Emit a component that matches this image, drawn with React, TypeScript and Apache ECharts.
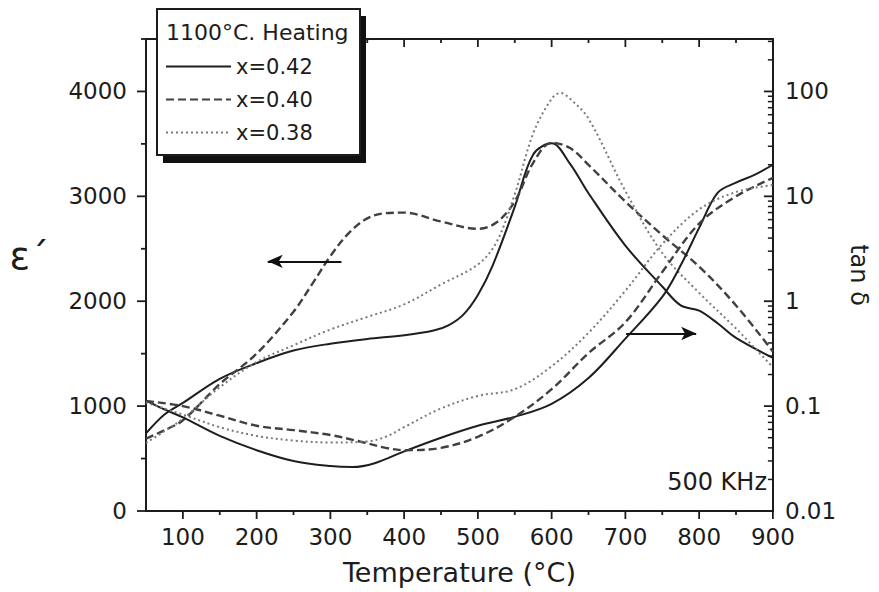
import { useEffect, useRef } from "react";
import * as echarts from "echarts";

const FONT = "'DejaVu Sans', 'Liberation Sans', sans-serif";
const INK = "#1c1c1c";

// legend / sample names
const samples = ["x=0.42", "x=0.40", "x=0.38"];

// ε' (left axis) — temperature grids and values
const epsTemp042 = [50, 75, 100, 150, 200, 250, 300, 350, 400, 440, 460, 480, 500, 520, 550, 575, 600, 625, 650, 700, 750, 775, 800, 825, 850, 900];
const eps042 = [740, 920, 1030, 1260, 1410, 1530, 1595, 1640, 1675, 1720, 1770, 1870, 2060, 2340, 2900, 3400, 3505, 3310, 3030, 2530, 2140, 1960, 1910, 1790, 1650, 1460];

const epsTemp040 = [50, 75, 100, 150, 200, 250, 275, 300, 325, 350, 375, 400, 450, 500, 525, 550, 575, 600, 625, 650, 700, 750, 800, 850, 900];
const eps040 = [690, 770, 865, 1210, 1500, 1900, 2160, 2430, 2650, 2790, 2840, 2845, 2760, 2690, 2750, 2950, 3320, 3510, 3460, 3300, 2950, 2630, 2330, 1960, 1520];

const epsTemp038 = [50, 75, 100, 150, 200, 250, 300, 350, 400, 450, 500, 525, 550, 575, 600, 612, 625, 650, 700, 750, 800, 850, 900];
const eps038 = [650, 760, 880, 1180, 1420, 1580, 1730, 1850, 1970, 2160, 2350, 2560, 3020, 3600, 3930, 3985, 3930, 3740, 3050, 2460, 2080, 1740, 1370];

// tan δ (right, log axis)
const tanTemp042 = [50, 75, 100, 150, 200, 250, 300, 330, 360, 400, 450, 500, 550, 600, 650, 700, 750, 775, 800, 825, 850, 875, 900];
const tan042 = [0.113, 0.093, 0.078, 0.052, 0.038, 0.030, 0.0268, 0.0262, 0.0285, 0.037, 0.050, 0.065, 0.079, 0.105, 0.185, 0.44, 1.1, 2.2, 5.0, 10.8, 13.5, 16, 20];

const tanTemp040 = [50, 100, 150, 200, 250, 300, 340, 375, 400, 450, 500, 550, 600, 650, 700, 750, 800, 850, 900];
const tan040 = [0.112, 0.100, 0.081, 0.065, 0.059, 0.053, 0.046, 0.040, 0.038, 0.040, 0.051, 0.079, 0.145, 0.32, 0.63, 1.9, 5.5, 10, 15];

const tanTemp038 = [50, 100, 150, 200, 250, 300, 350, 375, 400, 450, 500, 550, 600, 650, 700, 750, 800, 850, 900];
const tan038 = [0.108, 0.083, 0.063, 0.052, 0.047, 0.045, 0.046, 0.051, 0.063, 0.095, 0.125, 0.145, 0.24, 0.5, 1.26, 3.5, 7.5, 11, 12.8];

// annotation arrows: [fromT, toT, ε']
const arrowToLeft = [315, 215, 2380];
const arrowToRight = [701, 796, 1692];

// axis ranges and ticks
const xRange = [50, 900];
const epsRange = [0, 4500];
const tanRange = [0.01, 316.227766];
const xMajorTicks = [100, 200, 300, 400, 500, 600, 700, 800, 900];
const xMinorTicks = [150, 250, 350, 450, 550, 650, 750, 850];
const epsMajorTicks = [0, 1000, 2000, 3000, 4000];
const epsMinorTicks = [500, 1500, 2500, 3500, 4500];
const tanMajorTicks = [0.01, 0.1, 1, 10, 100];
const tanMinorTicks = [
  0.02, 0.03, 0.04, 0.05, 0.06, 0.07, 0.08, 0.09,
  0.2, 0.3, 0.4, 0.5, 0.6, 0.7, 0.8, 0.9,
  2, 3, 4, 5, 6, 7, 8, 9,
  20, 30, 40, 50, 60, 70, 80, 90,
  200, 300,
];

const zip = (xs: number[], ys: number[]) => xs.map((x, i) => [x, ys[i]]);

const lineStyles = [
  { color: "#1e1e1e", width: 2, type: "solid" as const },
  { color: "#404040", width: 2.4, type: [8, 4] as any },
  { color: "#7a7a7a", width: 2, type: [2, 3] as any },
];

// tick marks drawn as thin rect symbols at axis values
function tickMarks(
  data: number[][],
  yAxisIndex: number,
  size: number[],
  offset: number[]
) {
  return {
    type: "scatter",
    xAxisIndex: 0,
    yAxisIndex,
    silent: true,
    clip: false,
    z: 6,
    data,
    symbol: "rect",
    symbolSize: size,
    symbolOffset: offset,
    itemStyle: { color: INK, opacity: 1 },
    emphasis: { disabled: true },
    tooltip: { show: false },
  };
}

export default function App() {
  const ref = useRef<HTMLDivElement>(null);

  useEffect(() => {
    if (!ref.current) return;
    const chart = echarts.init(ref.current, undefined, { renderer: "svg" });

    const epsData = [zip(epsTemp042, eps042), zip(epsTemp040, eps040), zip(epsTemp038, eps038)];
    const tanData = [zip(tanTemp042, tan042), zip(tanTemp040, tan040), zip(tanTemp038, tan038)];

    const epsSeries = epsData.map((d, i) => ({
      type: "line",
      name: samples[i],
      xAxisIndex: 0,
      yAxisIndex: 0,
      data: d,
      symbol: "none",
      smooth: 0.35,
      lineStyle: lineStyles[i],
      itemStyle: { color: lineStyles[i].color },
      z: 3,
      ...(i === 0
        ? {
            markLine: {
              silent: true,
              symbol: ["none", "arrow"],
              symbolSize: [10, 15],
              label: { show: false },
              lineStyle: { color: "#111", width: 2, type: "solid" },
              data: [
                [
                  { coord: [arrowToLeft[0], arrowToLeft[2]] },
                  { coord: [arrowToLeft[1], arrowToLeft[2]] },
                ],
                [
                  { coord: [arrowToRight[0], arrowToRight[2]] },
                  { coord: [arrowToRight[1], arrowToRight[2]] },
                ],
              ],
            },
          }
        : {}),
    }));

    const tanSeries = tanData.map((d, i) => ({
      type: "line",
      name: samples[i],
      xAxisIndex: 0,
      yAxisIndex: 1,
      data: d,
      symbol: "none",
      smooth: 0.35,
      lineStyle: lineStyles[i],
      itemStyle: { color: lineStyles[i].color },
      z: 3,
    }));

    const axisLine = { show: true, onZero: false, lineStyle: { color: INK, width: 2 } };
    const label = { fontFamily: FONT, fontSize: 23, color: INK };

    chart.setOption({
      animation: false,
      backgroundColor: "#fff",
      tooltip: { show: false },
      grid: { left: 146, right: 101, top: 39, bottom: 81, containLabel: false },
      legend: {
        data: samples,
        orient: "vertical",
        left: 165,
        top: 56,
        itemWidth: 65,
        itemHeight: 20,
        itemGap: 12,
        padding: 0,
        selectedMode: false,
        z: 120,
        itemStyle: { opacity: 0 },
        textStyle: { fontFamily: FONT, fontSize: 21, color: INK },
      },
      xAxis: [
        {
          type: "value",
          position: "bottom",
          min: xRange[0],
          max: xRange[1],
          interval: 50,
          axisLine,
          axisTick: { show: false },
          splitLine: { show: false },
          axisLabel: {
            ...label,
            margin: 14,
            formatter: (v: number) => (v % 100 === 0 ? String(v) : ""),
          },
          name: "Temperature (°C)",
          nameLocation: "middle",
          nameGap: 48,
          nameTextStyle: { fontFamily: FONT, fontSize: 27, color: INK },
        },
        {
          type: "value",
          position: "top",
          min: xRange[0],
          max: xRange[1],
          interval: 50,
          axisLine,
          axisTick: { show: false },
          axisLabel: { show: false },
          splitLine: { show: false },
        },
      ],
      yAxis: [
        {
          type: "value",
          position: "left",
          min: epsRange[0],
          max: epsRange[1],
          interval: 500,
          axisLine,
          axisTick: { show: false },
          splitLine: { show: false },
          axisLabel: {
            ...label,
            margin: 19,
            formatter: (v: number) => (v % 1000 === 0 ? String(v) : ""),
          },
          name: "ε´",
          nameLocation: "middle",
          nameRotate: 0,
          nameGap: 97,
          nameTextStyle: { fontFamily: FONT, fontSize: 38, color: INK, verticalAlign: "bottom" },
        },
        {
          type: "log",
          logBase: 10,
          position: "right",
          min: tanRange[0],
          max: tanRange[1],
          axisLine,
          axisTick: { show: false },
          splitLine: { show: false },
          axisLabel: {
            ...label,
            margin: 12,
            showMaxLabel: false,
            formatter: (v: number) => {
              const l = Math.log10(v);
              const r = Math.round(l);
              if (Math.abs(l - r) > 1e-6) return "";
              return r >= 0 ? String(Math.round(v)) : v.toFixed(-r);
            },
          },
          name: "tan δ",
          nameLocation: "middle",
          nameRotate: -90,
          nameGap: 72,
          nameTextStyle: { fontFamily: FONT, fontSize: 24, color: INK },
        },
      ],
      graphic: [
        { type: "rect", z: 100, shape: { x: 163, y: 16, width: 203, height: 147 }, style: { fill: "#111" } },
        { type: "rect", z: 101, shape: { x: 157, y: 9, width: 203, height: 146 }, style: { fill: "#fff", stroke: INK, lineWidth: 2 } },
        { type: "text", z: 102, x: 166, y: 32, style: { text: "1100°C. Heating", font: `22px ${FONT}`, fill: INK, verticalAlign: "middle" } },
        { type: "text", z: 102, x: 767, y: 482, style: { text: "500 KHz", font: `24px ${FONT}`, fill: INK, align: "right", verticalAlign: "middle" } },
      ],
      series: [
        ...epsSeries,
        ...tanSeries,
        // bottom ticks (outward) and top ticks (inward)
        tickMarks(xMajorTicks.map((t) => [t, epsRange[0]]), 0, [1.8, 8], [0, 4]),
        tickMarks(xMinorTicks.map((t) => [t, epsRange[0]]), 0, [1.8, 4], [0, 2]),
        tickMarks(xMajorTicks.map((t) => [t, epsRange[1]]), 0, [1.8, 8], [0, 4]),
        tickMarks(xMinorTicks.map((t) => [t, epsRange[1]]), 0, [1.8, 4], [0, 2]),
        // left ticks (outward)
        tickMarks(epsMajorTicks.map((v) => [xRange[0], v]), 0, [9, 1.8], [-4.5, 0]),
        tickMarks(epsMinorTicks.map((v) => [xRange[0], v]), 0, [5, 1.8], [-2.5, 0]),
        // right log ticks (inward)
        tickMarks(tanMajorTicks.map((v) => [xRange[1], v]), 1, [9, 1.8], [-4.5, 0]),
        tickMarks(tanMinorTicks.map((v) => [xRange[1], v]), 1, [5, 1.5], [-2.5, 0]),
      ],
    });

    return () => chart.dispose();
  }, []);

  return (
    <div
      ref={ref}
      style={{ position: "absolute", left: 0, top: 0, width: 879, height: 592, background: "#fff" }}
    />
  );
}
